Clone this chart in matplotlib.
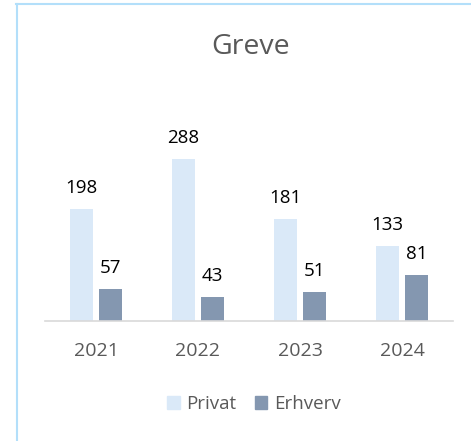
#### __import packages__ ####

import matplotlib.pyplot as plt
import numpy as np
from matplotlib.patches import Patch
from matplotlib.lines import Line2D

#### __data__ ####

years = ["2021", "2022", "2023", "2024"]
privat = [198, 288, 181, 133]
erhverv = [57, 43, 51, 81]
series_names = ["Privat", "Erhverv"]

# colours
c_privat = "#DAE9F8"
c_erhverv = "#8497B0"
c_text = "#595959"
c_frame = "#B3DFFA"

plt.rcParams["font.family"] = ["Open Sans", "DejaVu Sans"]

#### __figure__ ####

W, H = 471, 441
fig = plt.figure(figsize=(W / 100, H / 100), dpi=100)

# axes placed in pixel terms
left, right = 45, 453
base, top = 320.7, 124
ax = fig.add_axes([left / W, (H - base) / H, (right - left) / W, (base - top) / H])

x = np.arange(len(years))
width = 0.225
off = 0.142

ax.bar(x - off, privat, width, color=c_privat)
ax.bar(x + off, erhverv, width, color=c_erhverv)

# data labels above bars
for xs, vals in [(x - off, privat), (x + off, erhverv)]:
    for xi, v in zip(xs, vals):
        ax.annotate(str(v), (xi, v), xytext=(0, 11.5), textcoords="offset points",
                    ha="center", va="baseline", fontsize=13.5, color="black")

ax.set_xlim(-0.5, 3.5)
ax.set_ylim(0, 350)
ax.set_yticks([])
ax.set_xticks(x)
ax.set_xticklabels(years, fontsize=14, color=c_text)
ax.tick_params(axis="x", length=0, pad=15)
for s in ["top", "right", "left"]:
    ax.spines[s].set_visible(False)
ax.spines["bottom"].set_color("#D9D9D9")
ax.spines["bottom"].set_linewidth(1.2)

# title
fig.text(251 / W, 1 - 54 / H, "Greve", ha="center", va="baseline",
         fontsize=20.5, color=c_text)

# legend
handles = [Patch(color=c_privat), Patch(color=c_erhverv)]
fig.legend(handles, series_names, loc="center", bbox_to_anchor=(254 / W, 1 - 404 / H),
           ncol=2, frameon=False, fontsize=13.5, labelcolor=c_text,
           handlelength=0.65, handleheight=0.65, handletextpad=0.35, columnspacing=1.0)

# light blue frame (left and top edges)
fig.add_artist(Line2D([16.7 / W, 16.7 / W], [0, 1 - 4 / H], color=c_frame, lw=1.5,
                      transform=fig.transFigure))
fig.add_artist(Line2D([16 / W, 1], [1 - 4 / H, 1 - 4 / H], color=c_frame, lw=1.5,
                      transform=fig.transFigure))

fig.savefig("out.png", dpi=100)
